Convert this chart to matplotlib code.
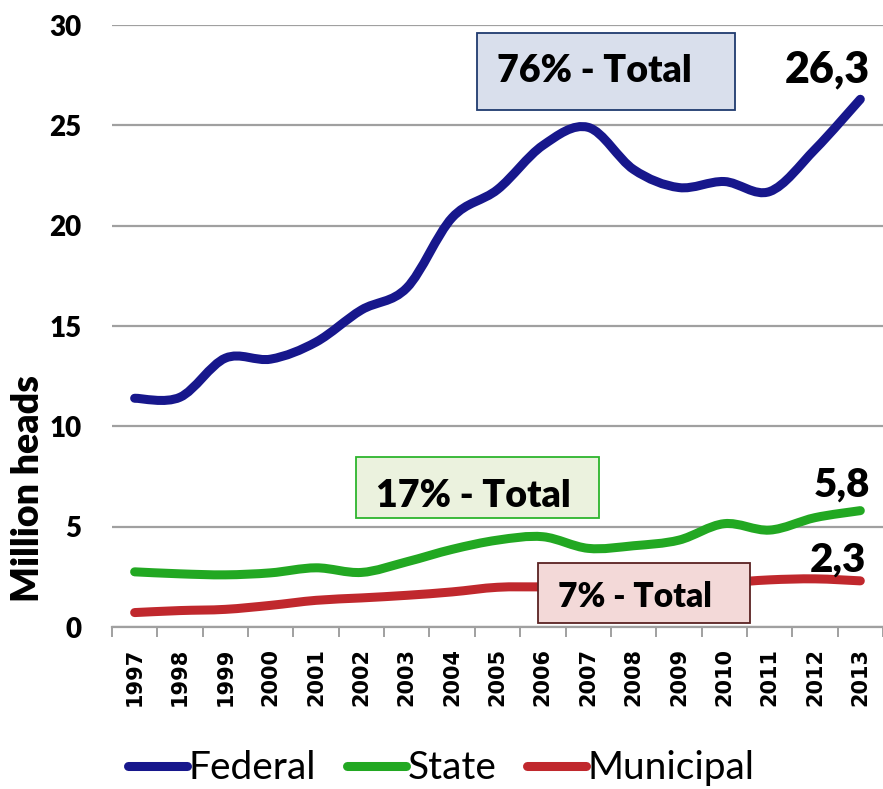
import numpy as np
import matplotlib.pyplot as plt
from matplotlib.path import Path
from matplotlib.patches import PathPatch, Rectangle
from matplotlib.lines import Line2D

years = ['1997', '1998', '1999', '2000', '2001', '2002', '2003', '2004', '2005',
         '2006', '2007', '2008', '2009', '2010', '2011', '2012', '2013']
federal = [11.4, 11.45, 13.4, 13.35, 14.2, 15.8, 16.9, 20.4, 21.8,
           24.0, 24.9, 22.8, 21.9, 22.2, 21.7, 23.8, 26.3]
state = [2.75, 2.65, 2.6, 2.7, 2.95, 2.72, 3.25, 3.87, 4.33,
         4.5, 3.92, 4.05, 4.33, 5.15, 4.83, 5.45, 5.8]
municipal = [0.72, 0.82, 0.88, 1.08, 1.33, 1.45, 1.58, 1.75, 1.98,
             2.0, 2.0, 2.05, 2.1, 2.2, 2.35, 2.4, 2.3]
yticks = [0, 5, 10, 15, 20, 25, 30]

series_names = ['Federal', 'State', 'Municipal']
series_colors = ['#17178C', '#22A822', '#C0282D']
end_labels = ['26,3', '5,8', '2,3']
share_labels = ['76% - Total', '17% - Total', '7% - Total']

BOLD = 'Lato'
W = 'heavy'


def smooth_path(xs, ys):
    # excel style smoothed line: cubic bezier, catmull-rom control points
    xs = np.asarray(xs, float)
    ys = np.asarray(ys, float)
    n = len(xs)
    verts = [(xs[0], ys[0])]
    codes = [Path.MOVETO]
    for i in range(n - 1):
        i0 = max(i - 1, 0)
        i3 = min(i + 2, n - 1)
        c1 = (xs[i] + (xs[i + 1] - xs[i0]) / 6, ys[i] + (ys[i + 1] - ys[i0]) / 6)
        c2 = (xs[i + 1] - (xs[i3] - xs[i]) / 6, ys[i + 1] - (ys[i3] - ys[i]) / 6)
        verts += [c1, c2, (xs[i + 1], ys[i + 1])]
        codes += [Path.CURVE4] * 3
    return Path(verts, codes)


fig = plt.figure(figsize=(8.83, 7.89), dpi=100)
ax = fig.add_axes([0.1268, 0.2053, 0.8732, 0.763])

x = np.arange(len(years))
for vals, col in zip([federal, state, municipal], series_colors):
    patch = PathPatch(smooth_path(x, vals), facecolor='none', edgecolor=col,
                      lw=6.5, capstyle='round', joinstyle='round', zorder=3)
    ax.add_patch(patch)

ax.set_xlim(-0.5, len(years) - 0.5)
ax.set_ylim(0, 30)
ax.set_yticks(yticks)
ax.set_yticklabels([str(v) for v in yticks], fontfamily=BOLD,
                   fontweight=W, fontsize=20)
ax.yaxis.grid(True, color='#A0A0A0', lw=1.6)
ax.set_axisbelow(True)
for s in ['top', 'right', 'left']:
    ax.spines[s].set_visible(False)
ax.spines['bottom'].set_color('#A0A0A0')
ax.spines['bottom'].set_linewidth(1.6)

ax.set_xticks(x)
ax.set_xticklabels(years, rotation=90, fontfamily='DejaVu Sans',
                   fontweight='bold', fontsize=15)
ax.set_xticks(np.arange(-0.5, len(years)), minor=True)
ax.tick_params(axis='x', which='major', length=0, pad=15)
ax.tick_params(axis='x', which='minor', length=7, width=1.4, color='#A0A0A0')
ax.tick_params(axis='y', length=0, pad=22)

fig.text(0.032, 1 - 488 / 789, 'Million heads', rotation=90, ha='center',
         va='center', fontfamily=BOLD, fontweight=W, fontsize=27)

# share boxes
boxes = [(7.55, 25.76, 5.69, 3.84, '#D9DFEC', '#1F3A6E', 7.99, 27.16, 27),
         (4.88, 5.43, 5.36, 3.04, '#EBF2DE', '#2DB52D', 5.32, 5.98, 27),
         (8.89, 0.2, 4.68, 2.99, '#F3D9D8', '#5A2222', 9.33, 1.0, 24)]
for (bx, by, bw, bh, fc, ec, tx, ty, fs), txt in zip(boxes, share_labels):
    ax.add_patch(Rectangle((bx, by), bw, bh, facecolor=fc, edgecolor=ec,
                           lw=1.3, zorder=4))
    ax.text(tx, ty, txt, fontfamily=BOLD, fontweight=W, fontsize=fs,
            ha='left', va='baseline', zorder=5)

# end value labels
for (lx, ly, fs), txt in zip([(15.27, 27.16, 31), (15.6, 6.48, 29), (15.5, 2.74, 29)],
                             end_labels):
    ax.text(lx, ly, txt, fontfamily=BOLD, fontweight=W, fontsize=fs,
            ha='center', va='baseline', zorder=5)

handles = [Line2D([], [], color=c, lw=6.5, solid_capstyle='round') for c in series_colors]
fig.legend(handles, series_names, loc='center', bbox_to_anchor=(0.5, 0.026),
           ncol=3, frameon=False, prop={'family': 'Lato', 'size': 28},
           handlelength=1.5, handletextpad=0.05, columnspacing=0.8)

fig.savefig('out.png', dpi=100)
